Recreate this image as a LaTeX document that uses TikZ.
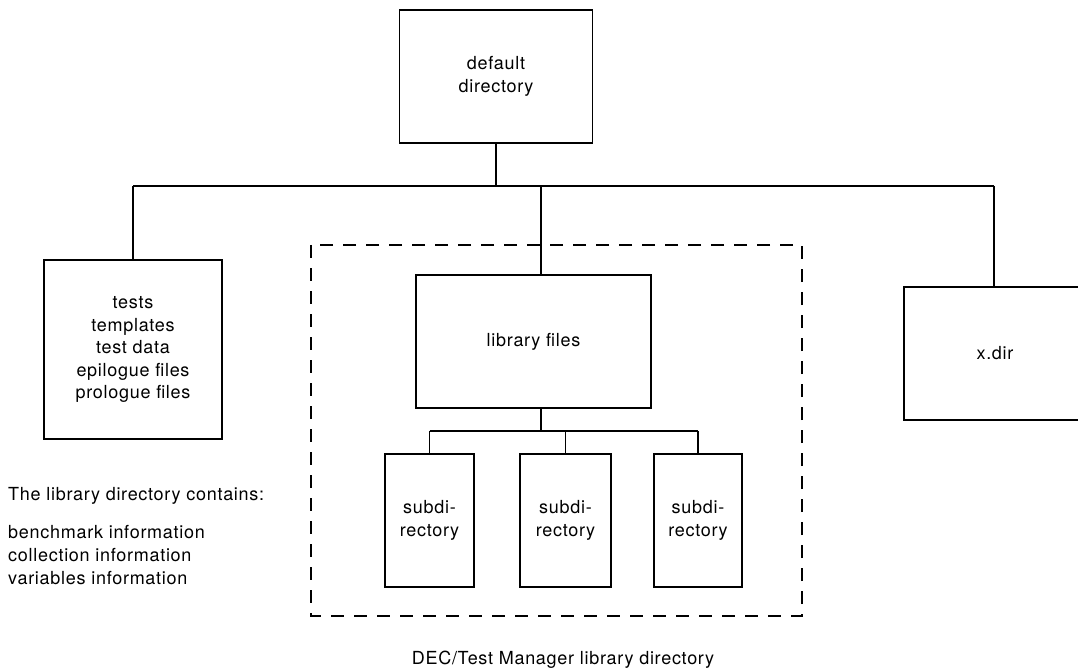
\documentclass[tikz,border=0pt]{standalone}
\usepackage{fontspec}
\setmainfont[LetterSpace=4]{TeX Gyre Heros}
\usetikzlibrary{positioning,calc}
\tikzset{dirbox/.style={draw,rectangle,line width=1.8pt,inner sep=0pt,align=center,font=\fontsize{18}{22.5}\selectfont}}
\tikzset{tree/.style={line width=1.8pt}}
\tikzset{libframe/.style={line width=1.8pt,dash pattern=on 13pt off 10pt}}
\tikzset{plain/.style={inner sep=0pt,align=left,font=\fontsize{18}{23}\selectfont}}

\begin{document}
\begin{tikzpicture}[x=1pt,y=-1pt]
	\useasboundingbox (0,0) rectangle (1078,668);
	% directory boxes
	\node[dirbox,minimum width=193,minimum height=133] (dflt) at (496,76.5) {default\\directory};
	\node[dirbox,minimum width=178,minimum height=179] (tests) at (133,349.5) {tests\\templates\\test data\\epilogue files\\prologue files};
	\node[dirbox,minimum width=235,minimum height=133] (lib) at (533.5,341.5) {library files};
	\node[dirbox,minimum width=182,minimum height=133] (xdir) at (995,353.5) {x.dir};
	\node[dirbox,minimum width=89,minimum height=133] (sub1) at (429.5,520.5) {subdi-\\rectory};
	\node[dirbox,minimum width=91,minimum height=133] (sub2) at (565.5,520.5) {subdi-\\rectory};
	\node[dirbox,minimum width=88,minimum height=133] (sub3) at (698,520.5) {subdi-\\rectory};

	% connectors
	\coordinate (busl) at (133,186);
	\coordinate (busr) at (994,186);
	\coordinate (libtop) at (541,275);
	\coordinate (libbot) at (541,408);
	\coordinate (subbus) at (541,431);
	\draw[tree] (busl) -- (busr);
	\draw[tree] (dflt.south) -- (dflt.south |- busl);
	\draw[tree] (busl) -- (tests.north);
	\draw[tree] (busr) -- (busr |- xdir.north);
	\draw[tree] (libtop |- busl) -- (libtop);
	\draw[tree] (libbot) -- (subbus);
	\draw[tree] (sub1.north |- subbus) -- (sub3.north |- subbus);
	\foreach \s in {sub1,sub2,sub3}
		\draw[tree] (\s.north) -- (\s.north |- subbus);

	\draw[libframe] (311,245) rectangle (802,616);

	% texts
	\node[plain,anchor=north west] (note) at (8,487) {The library directory contains:\\[15pt]benchmark information\\collection information\\variables information};
	\node[plain,anchor=base] (caption) at (563,664) {DEC/Test Manager library directory};
\end{tikzpicture}
\end{document}
